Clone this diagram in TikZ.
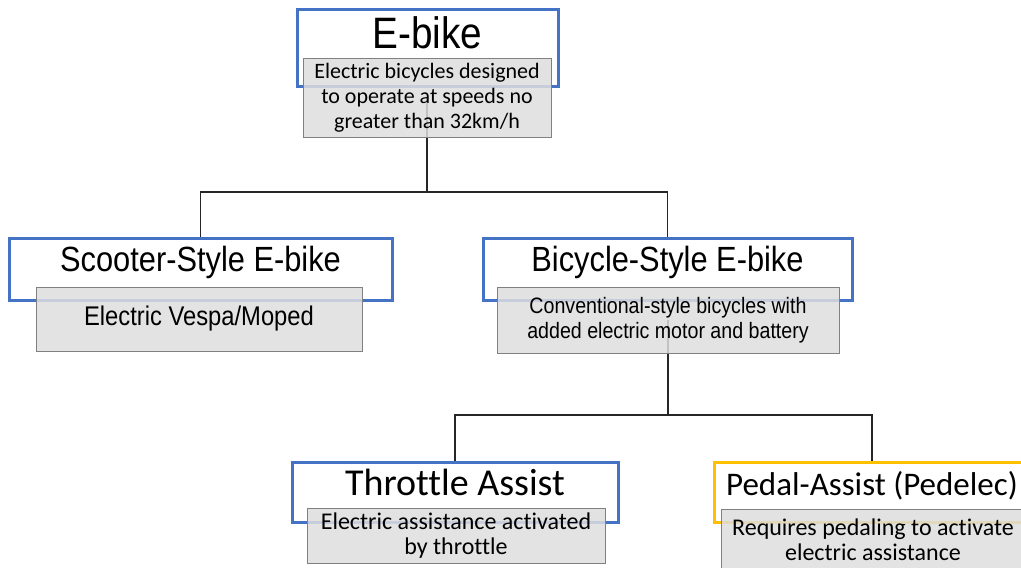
\documentclass[tikz,border=0pt]{standalone}
\usepackage{fontspec}
\setmainfont{Liberation Sans}
\newfontfamily\arialn[FakeStretch=0.88]{Liberation Sans}
\newfontfamily\calibri[Ligatures=NoCommon]{Carlito}
\usetikzlibrary{shadows,backgrounds}
\definecolor{boxblue}{RGB}{68,114,196}
\definecolor{boxgold}{RGB}{255,192,0}
\definecolor{descgray}{RGB}{222,222,222}
\tikzset{
  headbox/.style={draw=boxblue, line width=3pt, fill=white, inner sep=0pt,
    text height=33pt, text depth=27pt,
    drop shadow={shadow xshift=2pt, shadow yshift=-2pt, opacity=.3}},
  descbox/.style={draw=black!50, line width=1pt, fill=descgray, fill opacity=.85,
    text opacity=1, inner sep=0pt, align=center},
  link/.style={draw=black!85, line width=1.2pt}
}
\begin{document}
\begin{tikzpicture}[x=1pt,y=-1pt]
  \useasboundingbox (0,0) rectangle (1021,568);
  \clip (0,0) rectangle (1021,568);

  \node[headbox, minimum width=261pt, text height=39pt, text depth=38pt,
    font=\arialn\fontsize{44}{44}\selectfont] (ebike) at (427.5,47.5) {E-bike};
  \node[descbox, minimum width=248pt, minimum height=79pt,
    font=\calibri\fontsize{22}{25}\selectfont] (ebdesc) at (427,97.5)
    {Electric bicycles designed\\to operate at speeds no\\greater than 32km/h};

  \node[headbox, minimum width=383pt, text depth=29pt,
    font=\arialn\fontsize{35}{35}\selectfont] (scooter) at (200.5,269) {Scooter-Style E-bike};
  \node[descbox, minimum width=326pt, minimum height=64pt,
    font=\arialn\fontsize{27}{27}\selectfont] (scdesc) at (199,319) {Electric Vespa/Moped};

  \node[headbox, minimum width=369pt, text depth=29pt,
    font=\arialn\fontsize{35}{35}\selectfont] (bicycle) at (667.5,269) {Bicycle-Style E-bike};
  \node[descbox, minimum width=342pt, minimum height=66pt,
    font=\arialn\fontsize{22.3}{25}\selectfont] (bidesc) at (668,320)
    {Conventional-style bicycles with\\added electric motor and battery};

  \node[headbox, minimum width=326pt,
    font=\calibri\fontsize{38}{38}\selectfont] (throttle) at (455,492) {Throttle Assist};
  \node[descbox, minimum width=298pt, minimum height=55pt,
    font=\calibri\fontsize{24}{25}\selectfont] (thdesc) at (456,535.5)
    {Electric assistance activated\\by throttle};

  \node[headbox, draw=boxgold, minimum width=316pt,
    font=\calibri\fontsize{33}{33}\selectfont] (pedal) at (872,492) {Pedal-Assist (Pedelec)};
  \node[descbox, minimum width=304pt, minimum height=62pt,
    font=\calibri\fontsize{24}{25}\selectfont] (pedesc) at (873,540)
    {Requires pedaling to activate\\electric assistance};

  \begin{pgfonlayer}{background}
    \draw[link] (ebdesc.center) -- ++(0,94.5) -| (scooter.north);
    \draw[link] (ebdesc.center) -- ++(0,94.5) -| (bicycle.north);
    \draw[link] (bidesc.center) -- ++(0,95) -| (throttle.north);
    \draw[link] (bidesc.center) -- ++(0,95) -| (pedal.north);
  \end{pgfonlayer}
\end{tikzpicture}
\end{document}
